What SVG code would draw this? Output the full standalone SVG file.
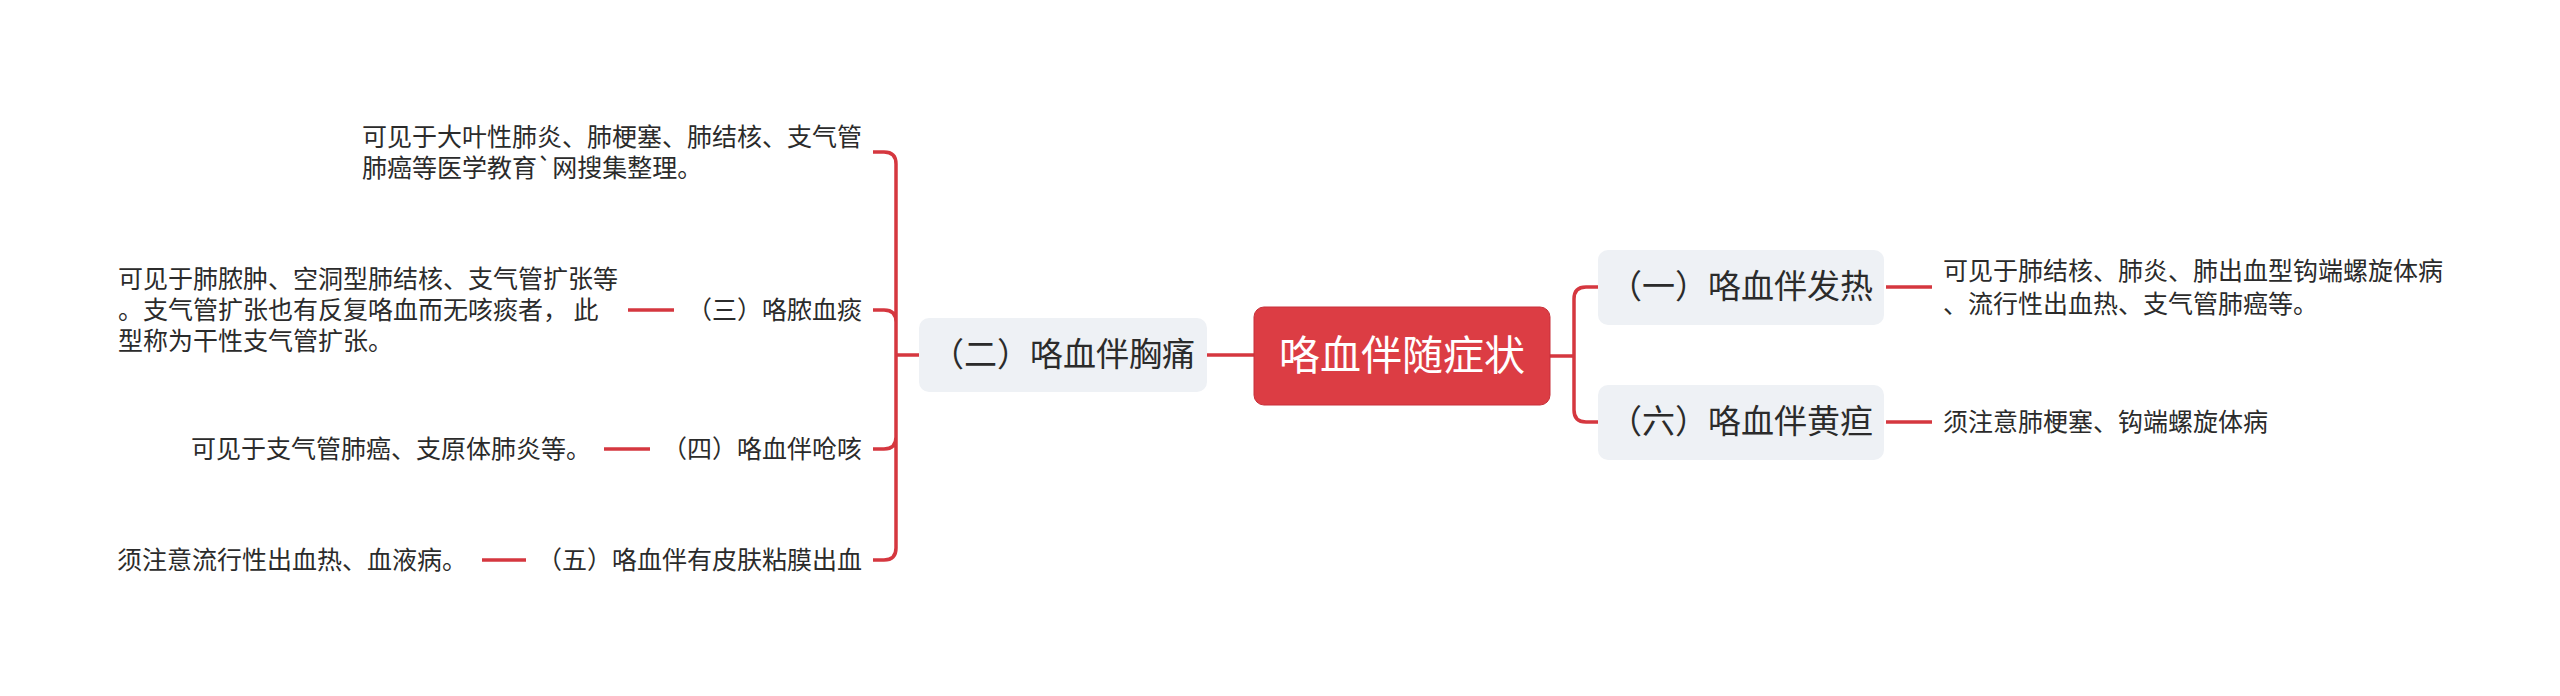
<svg xmlns="http://www.w3.org/2000/svg" width="2560" height="696" viewBox="0 0 2560 696">
<style>
text{font-family:"Noto Sans CJK SC","Noto Sans",sans-serif;fill:#2b2b2b}
.root{font-size:41px;fill:#ffffff;text-anchor:middle}
.mid{font-size:33px;text-anchor:middle}
.leaf{font-size:25px}
.end{text-anchor:end}
.box{fill:#eef1f5}
.line{fill:none;stroke:#d5373f;stroke-width:3.5}
</style>
<rect width="2560" height="696" fill="#ffffff"/>
<g id="connectors">
<path class="line" d="M1207 355 H1254"/>
<path class="line" d="M1550 356 H1574 M1598 287 H1586 Q1574 287 1574 299 V410 Q1574 422 1586 422 H1598"/>
<path class="line" d="M1886 287 H1932"/>
<path class="line" d="M1886 422 H1932"/>
<path class="line" d="M919 355 H896 M873 152 H884 Q896 152 896 164 V548 Q896 560 884 560 H873 M873 310 H884 Q896 310 896 322 M873 449 H884 Q896 449 896 437"/>
<path class="line" d="M628 310 H674"/>
<path class="line" d="M604 449 H650"/>
<path class="line" d="M482 560 H526"/>
</g>
<g id="root">
<rect x="1254" y="307" width="296" height="98" rx="10" fill="#dc3d44" stroke="#c8313a" stroke-width="1"/>
<text class="root" x="1402" y="370">咯血伴随症状</text>
</g>
<g id="n1">
<rect class="box" x="1598" y="250" width="286" height="75" rx="10"/>
<text class="mid" x="1741" y="298">（一）咯血伴发热</text>
</g>
<g id="n1leaf">
<text class="leaf" x="1943" y="280">可见于肺结核、肺炎、肺出血型钩端螺旋体病</text>
<text class="leaf" x="1943" y="313">、流行性出血热、支气管肺癌等。</text>
</g>
<g id="n6">
<rect class="box" x="1598" y="385" width="286" height="75" rx="10"/>
<text class="mid" x="1741" y="433">（六）咯血伴黄疸</text>
</g>
<g id="n6leaf">
<text class="leaf" x="1943" y="431">须注意肺梗塞、钩端螺旋体病</text>
</g>
<g id="n2">
<rect class="box" x="919" y="318" width="288" height="74" rx="10"/>
<text class="mid" x="1063" y="366">（二）咯血伴胸痛</text>
</g>
<g id="n2leaf">
<text class="leaf" x="362" y="146">可见于大叶性肺炎、肺梗塞、肺结核、支气管</text>
<text class="leaf" x="362" y="177">肺癌等医学教育`网搜集整理。</text>
</g>
<g id="n3">
<text class="leaf end" x="862" y="319">（三）咯脓血痰</text>
</g>
<g id="n3leaf">
<text class="leaf" x="118" y="288">可见于肺脓肿、空洞型肺结核、支气管扩张等</text>
<text class="leaf" x="118" y="319">。支气管扩张也有反复咯血而无咳痰者， 此</text>
<text class="leaf" x="118" y="350">型称为干性支气管扩张。</text>
</g>
<g id="n4">
<text class="leaf end" x="862" y="458">（四）咯血伴呛咳</text>
</g>
<g id="n4leaf">
<text class="leaf end" x="591" y="458">可见于支气管肺癌、支原体肺炎等。</text>
</g>
<g id="n5">
<text class="leaf end" x="862" y="569">（五）咯血伴有皮肤粘膜出血</text>
</g>
<g id="n5leaf">
<text class="leaf end" x="467" y="569">须注意流行性出血热、血液病。</text>
</g>
</svg>
